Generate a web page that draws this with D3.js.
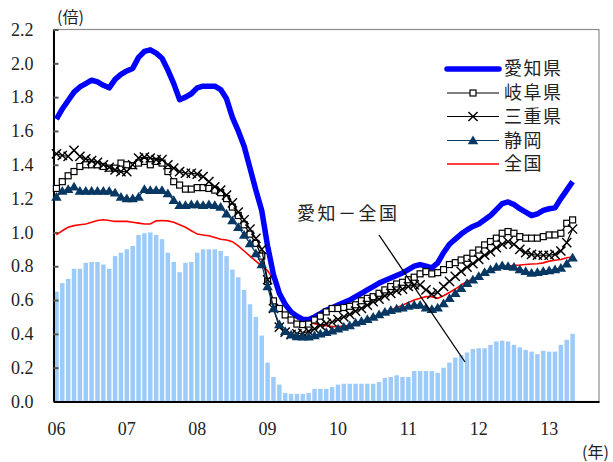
<!DOCTYPE html>
<html>
<head>
<meta charset="utf-8">
<script src="https://cdn.jsdelivr.net/npm/d3@7"></script>
<style>
  html, body { margin: 0; padding: 0; background: #fff; }
  svg { display: block; }
  .num { font-family: "Liberation Serif", "Times New Roman", serif; font-size: 18px; fill: #222; }
  .jp { font-family: "Noto Sans CJK JP", "Noto Sans", sans-serif; fill: #222; }
</style>
</head>
<body>
<svg id="chart" width="613" height="462"></svg>
<script>
// Monthly series, Jan 2006 – May 2013 (ratio, 倍)
const yearLabels = ["06", "07", "08", "09", "10", "11", "12", "13"];

const diffAichiNational = [
  0.65, 0.70, 0.725, 0.785, 0.785, 0.82, 0.825, 0.825, 0.81, 0.785, 0.86, 0.88,
  0.90, 0.92, 0.985, 0.995, 1.00, 0.985, 0.96, 0.88, 0.825, 0.765, 0.82, 0.825,
  0.88, 0.90, 0.90, 0.90, 0.89, 0.86, 0.78, 0.735, 0.66, 0.575, 0.50, 0.39,
  0.23, 0.145, 0.10, 0.05, 0.045, 0.045, 0.045, 0.05, 0.075, 0.075, 0.075, 0.085,
  0.10, 0.105, 0.105, 0.105, 0.105, 0.105, 0.105, 0.115, 0.14, 0.145, 0.155, 0.145,
  0.145, 0.18, 0.18, 0.18, 0.18, 0.17, 0.20, 0.23, 0.26, 0.275, 0.29, 0.31,
  0.315, 0.315, 0.335, 0.355, 0.36, 0.355, 0.335, 0.32, 0.305, 0.295, 0.28, 0.30,
  0.295, 0.295, 0.335, 0.365, 0.40
];

const aichi = [
  1.67, 1.73, 1.78, 1.83, 1.86, 1.88, 1.90, 1.89, 1.87, 1.855, 1.905, 1.935,
  1.955, 1.97, 2.035, 2.07, 2.08, 2.06, 2.03, 1.96, 1.88, 1.785, 1.80, 1.82,
  1.855, 1.865, 1.865, 1.865, 1.845, 1.79, 1.68, 1.60, 1.51, 1.38, 1.25, 1.13,
  0.92, 0.75, 0.64, 0.575, 0.53, 0.505, 0.485, 0.485, 0.50, 0.52, 0.54, 0.555,
  0.57, 0.585, 0.60, 0.62, 0.64, 0.66, 0.68, 0.70, 0.715, 0.73, 0.745, 0.76,
  0.78, 0.80, 0.81, 0.80, 0.79, 0.82, 0.88, 0.93, 0.96, 0.99, 1.015, 1.035,
  1.05, 1.075, 1.10, 1.135, 1.17, 1.18, 1.165, 1.14, 1.12, 1.10, 1.11, 1.13,
  1.14, 1.145, 1.20, 1.25, 1.30
];

const gifu = [
  1.26, 1.30, 1.335, 1.36, 1.39, 1.40, 1.40, 1.40, 1.39, 1.38, 1.38, 1.41,
  1.40, 1.395, 1.41, 1.42, 1.40, 1.42, 1.41, 1.36, 1.30, 1.28, 1.256, 1.256,
  1.265, 1.265, 1.26, 1.25, 1.235, 1.20, 1.15, 1.10, 1.045, 0.99, 0.935, 0.86,
  0.71, 0.595, 0.55, 0.512, 0.482, 0.458, 0.455, 0.458, 0.482, 0.505, 0.53, 0.55,
  0.55, 0.556, 0.563, 0.572, 0.596, 0.61, 0.62, 0.64, 0.66, 0.68, 0.695, 0.705,
  0.72, 0.735, 0.755, 0.768, 0.755, 0.762, 0.78, 0.81, 0.821, 0.837, 0.847, 0.877,
  0.896, 0.926, 0.946, 0.966, 0.995, 1.005, 0.995, 0.975, 0.966, 0.966, 0.966, 0.975,
  0.985, 0.985, 0.995, 1.054, 1.074
];

const mie = [
  1.465, 1.455, 1.45, 1.485, 1.45, 1.435, 1.425, 1.415, 1.40, 1.385, 1.37, 1.36,
  1.36, 1.40, 1.44, 1.445, 1.44, 1.43, 1.43, 1.40, 1.38, 1.36, 1.35, 1.35,
  1.345, 1.33, 1.30, 1.27, 1.25, 1.22, 1.175, 1.12, 1.075, 1.02, 0.965, 0.90,
  0.72, 0.55, 0.44, 0.41, 0.395, 0.40, 0.405, 0.415, 0.43, 0.45, 0.46, 0.47,
  0.485, 0.50, 0.515, 0.535, 0.55, 0.57, 0.59, 0.605, 0.625, 0.64, 0.655, 0.665,
  0.68, 0.69, 0.69, 0.66, 0.635, 0.645, 0.68, 0.71, 0.74, 0.77, 0.795, 0.815,
  0.84, 0.865, 0.885, 0.91, 0.93, 0.945, 0.93, 0.90, 0.88, 0.87, 0.865, 0.865,
  0.865, 0.87, 0.89, 0.94, 1.02
];

const shizuoka = [
  1.21, 1.245, 1.255, 1.27, 1.245, 1.245, 1.245, 1.245, 1.245, 1.245, 1.235, 1.21,
  1.20, 1.20, 1.21, 1.255, 1.25, 1.25, 1.25, 1.23, 1.19, 1.16, 1.16, 1.165,
  1.165, 1.16, 1.165, 1.16, 1.15, 1.11, 1.07, 1.03, 0.985, 0.935, 0.875, 0.81,
  0.68, 0.55, 0.455, 0.415, 0.395, 0.385, 0.383, 0.383, 0.39, 0.40, 0.41, 0.418,
  0.43, 0.44, 0.45, 0.465, 0.475, 0.487, 0.50, 0.515, 0.53, 0.54, 0.548, 0.555,
  0.565, 0.57, 0.57, 0.555, 0.545, 0.555, 0.58, 0.61, 0.64, 0.67, 0.70, 0.72,
  0.74, 0.765, 0.78, 0.795, 0.805, 0.80, 0.795, 0.78, 0.77, 0.76, 0.765, 0.77,
  0.775, 0.78, 0.79, 0.815, 0.85
];

const national = [
  0.985, 1.01, 1.03, 1.04, 1.045, 1.05, 1.06, 1.07, 1.075, 1.07, 1.065, 1.065,
  1.065, 1.06, 1.055, 1.05, 1.05, 1.068, 1.07, 1.068, 1.06, 1.045, 1.03, 1.01,
  0.99, 0.985, 0.98, 0.97, 0.96, 0.955, 0.945, 0.92, 0.89, 0.86, 0.83, 0.80,
  0.775, 0.72, 0.65, 0.575, 0.52, 0.49, 0.478, 0.47, 0.46, 0.453, 0.448, 0.443,
  0.443, 0.446, 0.45, 0.46, 0.47, 0.48, 0.495, 0.51, 0.525, 0.54, 0.555, 0.57,
  0.585, 0.60, 0.61, 0.62, 0.62, 0.61, 0.625, 0.645, 0.665, 0.69, 0.71, 0.725,
  0.74, 0.755, 0.77, 0.78, 0.79, 0.80, 0.805, 0.807, 0.81, 0.813, 0.815, 0.82,
  0.83, 0.835, 0.84, 0.85, 0.855
];

const seriesNames = ["愛知県", "岐阜県", "三重県", "静岡", "全国"];
const annotationText = "愛知－全国";

// ---- layout ----
const svg = d3.select("#chart");
const plot = { left: 53.5, right: 599, top: 29.5, bottom: 401.5 };
const slotCount = 93;   // month slots along the category axis

const x = d3.scaleBand()
  .domain(d3.range(slotCount))
  .range([plot.left, plot.right])
  .paddingInner(0.24)
  .paddingOuter(0.12);
const cx = i => x(i) + x.bandwidth() / 2;

const y = d3.scaleLinear().domain([0, 2.2]).range([plot.bottom, plot.top]);

// plot frame (top/right in grey)
svg.append("rect")
  .attr("x", plot.left).attr("y", plot.top)
  .attr("width", plot.right - plot.left).attr("height", plot.bottom - plot.top)
  .attr("fill", "none").attr("stroke", "#8c8c8c").attr("stroke-width", 1.2);

// bars: 愛知 − 全国
svg.append("g").selectAll("rect")
  .data(diffAichiNational)
  .join("rect")
  .attr("x", (d, i) => x(i))
  .attr("width", x.bandwidth())
  .attr("y", d => y(d))
  .attr("height", d => y(0) - y(d))
  .attr("fill", "#9ccbfa");

// y axis with inward ticks
const yAxis = d3.axisLeft(y)
  .tickValues(d3.range(0, 2.21, 0.2))
  .tickFormat(d3.format(".1f"))
  .tickSizeInner(-5)
  .tickSizeOuter(0)
  .tickPadding(20);
const gy = svg.append("g").attr("transform", `translate(${plot.left},0)`).call(yAxis);
gy.select(".domain").attr("stroke", "#000").attr("stroke-width", 2);
gy.selectAll(".tick line").attr("stroke", "#555").attr("stroke-width", 2);
gy.selectAll(".tick text").attr("class", "num").attr("font-family", null).attr("font-size", null);

// x axis: year labels at January of each year
const xAxis = d3.axisBottom(x)
  .tickValues(yearLabels.map((_, k) => k * 12))
  .tickFormat((d, k) => yearLabels[k])
  .tickSize(0)
  .tickPadding(21);
const gx = svg.append("g").attr("transform", `translate(0,${plot.bottom})`).call(xAxis);
gx.select(".domain").attr("stroke", "#000").attr("stroke-width", 2);
gx.selectAll(".tick text").attr("class", "num").attr("font-family", null).attr("font-size", null);

// lines
const line = d3.line().x((d, i) => cx(i)).y(d => y(d));

svg.append("path").datum(national)
  .attr("d", line).attr("fill", "none")
  .attr("stroke", "#ff0000").attr("stroke-width", 1.6);

svg.append("path").datum(aichi)
  .attr("d", line).attr("fill", "none")
  .attr("stroke", "#0000ff").attr("stroke-width", 5.5).attr("stroke-linejoin", "round");

// marker drawing helpers
const sq = 6, xs = 4.6;
const triPath = s => `M0,${-s} L${s * 1.05},${s * 0.75} L${-s * 1.05},${s * 0.75} Z`;

function drawSquares(g, data, px, py) {
  g.selectAll("rect.m").data(data).join("rect").attr("class", "m")
    .attr("x", (d, i) => px(d, i) - sq / 2).attr("y", (d, i) => py(d, i) - sq / 2)
    .attr("width", sq).attr("height", sq)
    .attr("fill", "#fff").attr("stroke", "#000").attr("stroke-width", 1.2);
}
function drawCrosses(g, data, px, py) {
  g.selectAll("path.m").data(data).join("path").attr("class", "m")
    .attr("d", (d, i) => {
      const a = px(d, i), b = py(d, i);
      return `M${a - xs},${b - xs}L${a + xs},${b + xs}M${a - xs},${b + xs}L${a + xs},${b - xs}`;
    })
    .attr("stroke", "#000").attr("stroke-width", 1.4).attr("fill", "none");
}
function drawTriangles(g, data, px, py) {
  g.selectAll("path.m").data(data).join("path").attr("class", "m")
    .attr("transform", (d, i) => `translate(${px(d, i)},${py(d, i)})`)
    .attr("d", triPath(5))
    .attr("fill", "#073763");
}

// 岐阜県
const gG = svg.append("g");
gG.append("path").datum(gifu).attr("d", line).attr("fill", "none")
  .attr("stroke", "#000").attr("stroke-width", 1.2);
drawSquares(gG, gifu, (d, i) => cx(i), d => y(d));

// 三重県
const gM = svg.append("g");
gM.append("path").datum(mie).attr("d", line).attr("fill", "none")
  .attr("stroke", "#000").attr("stroke-width", 1.2);
drawCrosses(gM, mie, (d, i) => cx(i), d => y(d));

// 静岡
const gS = svg.append("g");
gS.append("path").datum(shizuoka).attr("d", line).attr("fill", "none")
  .attr("stroke", "#073763").attr("stroke-width", 1.2);
drawTriangles(gS, shizuoka, (d, i) => cx(i), d => y(d));

// legend
const legend = svg.append("g");
const legX0 = 447, legX1 = 499, legMid = 473, legText = 504;
const legY = [69, 93, 116.5, 140.5, 164];
const legStyles = [
  { stroke: "#0000ff", width: 5.5 },
  { stroke: "#000", width: 1.2, marker: "square" },
  { stroke: "#000", width: 1.2, marker: "cross" },
  { stroke: "#073763", width: 1.2, marker: "tri" },
  { stroke: "#ff0000", width: 1.6 }
];
seriesNames.forEach((name, k) => {
  const st = legStyles[k], yy = legY[k];
  const g = legend.append("g");
  g.append("line").attr("x1", legX0).attr("x2", legX1).attr("y1", yy).attr("y2", yy)
    .attr("stroke", st.stroke).attr("stroke-width", st.width)
    .attr("stroke-linecap", k === 0 ? "round" : "butt");
  if (st.marker === "square") drawSquares(g, [0], () => legMid, () => yy);
  if (st.marker === "cross") drawCrosses(g, [0], () => legMid, () => yy);
  if (st.marker === "tri") drawTriangles(g, [0], () => legMid, () => yy);
  g.append("text").attr("class", "jp")
    .attr("x", legText).attr("y", yy).attr("dy", "0.36em")
    .attr("font-size", 18).attr("letter-spacing", 1.5)
    .text(name);
});

// annotation for the bars
svg.append("text").attr("class", "jp")
  .attr("x", 297).attr("y", 214).attr("dy", "0.36em")
  .attr("font-size", 18).attr("letter-spacing", 2.5)
  .text(annotationText);
svg.append("line")
  .attr("x1", 379).attr("y1", 235).attr("x2", 465).attr("y2", 362)
  .attr("stroke", "#000").attr("stroke-width", 1.3);

// unit labels
svg.append("text").attr("class", "jp")
  .attr("x", 57).attr("y", 17).attr("dy", "0.36em")
  .attr("font-size", 16).text("(倍)");
svg.append("text").attr("class", "jp")
  .attr("x", 582).attr("y", 452).attr("dy", "0.36em")
  .attr("font-size", 16).text("(年)");
</script>
</body>
</html>
